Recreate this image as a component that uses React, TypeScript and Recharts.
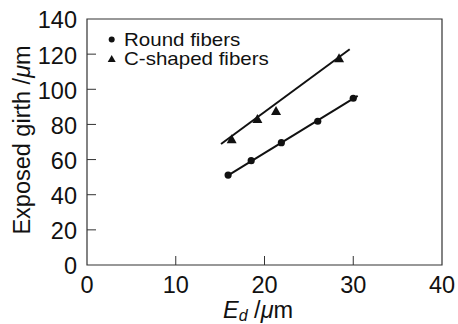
import { ComposedChart, Scatter, Line, XAxis, YAxis, ReferenceArea } from 'recharts';

const roundX = [15.9, 18.5, 21.9, 26.0, 30.0];
const roundY = [51.2, 59.4, 69.6, 81.8, 94.9];
const cShapedX = [16.3, 19.2, 21.3, 28.4];
const cShapedY = [71.5, 83.1, 87.6, 117.6];
const roundFitX = [15.9, 30.5];
const roundFitY = [51.0, 96.2];
const cShapedFitX = [15.1, 29.6];
const cShapedFitY = [68.9, 122.8];
const xTicks = [0, 10, 20, 30, 40];
const yTicks = [0, 20, 40, 60, 80, 100, 120, 140];

const zip = (xs: number[], ys: number[]) => xs.map((x, i) => ({ x, y: ys[i] }));
const roundData = zip(roundX, roundY);
const cShapedData = zip(cShapedX, cShapedY);
const roundFit = zip(roundFitX, roundFitY);
const cShapedFit = zip(cShapedFitX, cShapedFitY);

const FONT = '"Liberation Sans", Arial, sans-serif';
const INK = '#111';

const Dot = (p: any) => <circle cx={p.cx} cy={p.cy} r={3.6} fill={INK} />;
const Tri = (p: any) => (
  <polygon points={`${p.cx - 5},${p.cy + 4} ${p.cx + 5},${p.cy + 4} ${p.cx},${p.cy - 5}`} fill={INK} />
);

const XTick = (p: any) => {
  const axisY = p.y - 11;
  const v = p.payload.value;
  return (
    <g>
      {v !== 0 && v !== 40 && <line x1={p.x} x2={p.x} y1={axisY} y2={axisY - 9} stroke="#333" strokeWidth={1} />}
      <text x={p.x} y={p.y} dy="0.71em" textAnchor="middle" fontSize={23.5} fontFamily={FONT} fill={INK}>{v}</text>
    </g>
  );
};

const YTick = (p: any) => {
  const axisX = p.x + 10;
  const v = p.payload.value;
  return (
    <g>
      {v !== 0 && v !== 140 && <line x1={axisX} x2={axisX + 9} y1={p.y} y2={p.y} stroke="#333" strokeWidth={1} />}
      <text x={p.x} y={p.y} dy="0.4em" textAnchor="end" fontSize={23.5} fontFamily={FONT} fill={INK}>{v}</text>
    </g>
  );
};

function Labels() {
  return (
    <g fontFamily={FONT} fill={INK}>
      <text x={30} y={140} fontSize={23.5} textAnchor="middle" transform="rotate(-90, 30, 140)">
        Exposed girth /<tspan fontStyle="italic">μ</tspan>m
      </text>
      <text x={223} y={318} fontSize={23.5}>
        <tspan fontStyle="italic">E</tspan>
        <tspan fontStyle="italic" fontSize={16} dy={3}>d</tspan>
        <tspan dy={-3}> /</tspan>
        <tspan fontStyle="italic">μ</tspan>m
      </text>
      <circle cx={111.7} cy={39.5} r={3} fill={INK} />
      <polygon points="107.7,62 115.7,62 111.7,55" fill={INK} />
      <text transform="translate(124,45.5) scale(1.14,1)" fontSize={18}>Round fibers</text>
      <text transform="translate(124,64.5) scale(1.14,1)" fontSize={18}>C-shaped fibers</text>
    </g>
  );
}

export default function App() {
  return (
    <div style={{ position: 'absolute', left: 0, top: 0, background: '#fff' }}>
      <ComposedChart width={458} height={324} margin={{ top: 19, right: 16, bottom: 0, left: 0 }}>
        <XAxis
          dataKey="x"
          type="number"
          domain={[0, 40]}
          ticks={xTicks}
          height={59}
          tickSize={0}
          tickMargin={11}
          tickLine={false}
          axisLine={false}
          tick={<XTick />}
        />
        <YAxis
          dataKey="y"
          type="number"
          domain={[0, 140]}
          ticks={yTicks}
          width={87}
          tickSize={0}
          tickMargin={10}
          tickLine={false}
          axisLine={false}
          tick={<YTick />}
        />
        <ReferenceArea x1={0} x2={40} y1={0} y2={140} fill="none" stroke="#333" strokeWidth={1.2} ifOverflow="visible" />
        <Line data={roundFit} dataKey="y" type="linear" stroke={INK} strokeWidth={2} dot={false} isAnimationActive={false} />
        <Line data={cShapedFit} dataKey="y" type="linear" stroke={INK} strokeWidth={2} dot={false} isAnimationActive={false} />
        <Scatter data={roundData} dataKey="y" shape={Dot} isAnimationActive={false} />
        <Scatter data={cShapedData} dataKey="y" shape={Tri} isAnimationActive={false} />
        <Labels />
      </ComposedChart>
    </div>
  );
}
